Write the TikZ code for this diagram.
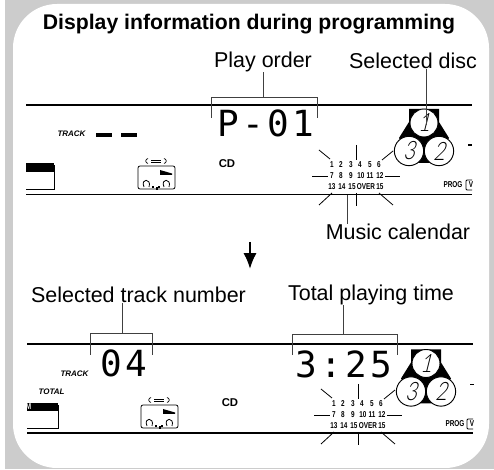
\documentclass[tikz,border=0pt]{standalone}
\usepackage{fontspec}
\setmainfont{Liberation Sans}
\newfontfamily\lcdfont[LetterSpace=9]{DejaVu Sans Mono}
\newfontfamily\discfont[FakeSlant=0.25,FakeStretch=0.8]{Lato Light}
\newfontfamily\narrowfont[FakeStretch=0.75]{Liberation Sans Bold}
\usetikzlibrary{arrows.meta,positioning,calc}

\begin{document}
\begin{tikzpicture}[x=0.75pt,y=-0.75pt,
  every node/.style={inner sep=0pt},
  title/.style={font=\fontsize{15.9}{18}\selectfont\bfseries},
  lbl/.style={font=\fontsize{16.1}{18}\selectfont},
  lcd/.style={font=\fontsize{27}{28}\selectfont\lcdfont},
  tag/.style={font=\fontsize{6}{7}\selectfont\bfseries\itshape},
  cdtag/.style={font=\fontsize{8.5}{9}\selectfont\bfseries},
  cal/.style={font=\fontsize{6.4}{7}\selectfont\narrowfont},
  discnum/.style={font=\fontsize{19}{20}\selectfont\discfont},
  rail/.style={line width=1.1pt},
  brk/.style={line width=0.6pt,draw=black!75},
  ray/.style={line width=0.6pt},
  discicon/.pic={
    \fill (409,109)--(439,109)--(439,122)--(449,138)--(434,163)--(414,163)--(399,138)--(409,122)--cycle;
    \node[circle,draw,fill=white,line width=0.7pt,minimum size=21pt,discnum] (-a) at (424,123) {1};
    \node[circle,draw,fill=white,line width=0.7pt,minimum size=22pt,discnum] (-b) at (409,151) {3};
    \node[circle,draw,fill=white,line width=0.7pt,minimum size=22pt,discnum] (-c) at (439,151) {2};
  },
  calendar/.pic={
    \foreach \xx/\tt [count=\ii] in {332/1,341/2,351/3,360/4,370/5,379/6}
      \node[cal] (-r\ii) at (\xx,165) {\tt};
    \foreach \xx/\tt [count=\ii] in {332/7,341/8,351/9,361/10,370/11,380/12}
      \node[cal] (-s\ii) at (\xx,176) {\tt};
    \foreach \xx/\tt [count=\ii] in {332/13,342/14,352/15,366/OVER,380/15}
      \node[cal] (-t\ii) at (\xx,187) {\tt};
    \draw[ray] (319,150)--(330,159);
    \draw[ray] (356,145)--(356,160);
    \draw[ray] (393,151)--(382,160);
    \draw[ray] (312,176)--(328,176);
    \draw[ray] (385,176)--(400,176);
    \draw[ray] (332,193)--(319,205);
    \draw[ray] (356,193)--(356,206);
    \draw[ray] (379,193)--(393,205);
  },
  tapeicon/.pic={
    \draw[line width=0.6pt,rounded corners=1.5pt] (138,166) rectangle (175,189);
    \fill (160,170)--(172,173.5)--(172,175)--(160,175)--cycle;
    \draw[line width=0.6pt] (144,187) .. controls (140,178) and (152,178) .. (149,187);
    \draw[line width=0.6pt] (164,187) .. controls (160,178) and (172,178) .. (169,187);
    \fill (152,186) rectangle (154,188);
    \fill (158,186) rectangle (160,188);
    \fill (155.5,187) rectangle (157.5,190);
    \draw[line width=0.5pt] (148,158.5) .. controls (145,159) and (145,163) .. (148,163.5);
    \draw[line width=0.5pt] (164,158.5) .. controls (167,159) and (167,163) .. (164,163.5);
    \draw[line width=0.5pt] (151,160)--(161,160);
    \draw[line width=0.5pt] (151,162.5)--(161,162.5);
  }]
\useasboundingbox (0,0) rectangle (494,470);
% panel
\fill[black!20] (5,0) rectangle (494,469);
\fill[white,rounded corners=33pt] (13,4) rectangle (489,468);
\node[title] (head) at (249,24.5) {Display information during programming};
% upper display
\node[lbl] (play) at (263,62) {Play order};
\node[lbl] (disc) at (413,61) {Selected disc};
\draw[rail] (26,105)--(472,105);
\draw[rail] (26,194.5)--(472,194.5);
\coordinate (pa) at (211,118); \coordinate (pb) at (211,97);
\coordinate (pc) at (317,97);  \coordinate (pd) at (317,118);
\coordinate (pm) at (263,97);
\draw[brk] (pa)--(pb)--(pc)--(pd);
\draw[brk] (play.south)--(pm);
\node[lcd] (order) at (266,123) {P-01};
\node[tag] (trk) at (71.5,134) {TRACK};
\fill (96,133) rectangle (112,137);
\fill (121,133) rectangle (137,137);
\fill (26,163) rectangle (54,172);
\draw[line width=0.7pt] (26,189)--(54,189)--(54,165);
\pic at (0,0) {tapeicon};
\node[cdtag] (cd) at (227,164) {CD};
\pic (da) at (0,0) {discicon};
\coordinate (dt) at (426,125);
\draw[brk] (disc.south -| dt)--(dt);
\pic (ca) at (0,0) {calendar};
\node[lbl] (music) at (398,232) {Music calendar};
\draw[brk] (music.north -| 347,0)--(347,195);
\fill (468,144.5) rectangle (472,146);
\node[cal] (prog) at (453,185) {PROG};
\draw[line width=0.6pt] (472,180)--(467,180)--(466,181)--(466,189)--(467,190)--(472,190);
\begin{scope}
\clip (466,178) rectangle (472,192);
\node[cal] (vv) at (471,185) {V};
\end{scope}
% arrow
\node (top) at (250,241) {};
\node (bot) at (250,270) {};
\draw[-{Latex[length=12pt,width=10pt]},line width=1.7pt] (top)--(bot);
% lower display
\node[lbl] (track) at (138.5,295) {Selected track number};
\node[lbl] (time) at (371,295) {Total playing time};
\draw[rail] (27,344)--(473,344);
\draw[rail] (27,433)--(473,433);
\coordinate (ta) at (90,355); \coordinate (tb) at (90,333);
\coordinate (tc) at (152,333); \coordinate (td) at (152,355);
\coordinate (tm) at (122,333);
\draw[brk] (ta)--(tb)--(tc)--(td);
\draw[brk] (track.south -| tm)--(tm);
\coordinate (qa) at (292,355); \coordinate (qb) at (292,334);
\coordinate (qc) at (397,334); \coordinate (qd) at (397,355);
\coordinate (qm) at (343,334);
\draw[brk] (qa)--(qb)--(qc)--(qd);
\draw[brk] (time.south -| qm)--(qm);
\node[lcd] (num) at (123.5,363.5) {04};
\node[lcd] (total) at (344,364) {3:25};
\node[tag] (trk2) at (74.5,374) {TRACK};
\node[tag] (tot) at (51.5,392) {TOTAL};
\fill (27,403) rectangle (58,411);
\node[cal,text=white] (mm) at (28.5,406.5) {M};
\draw[line width=0.7pt] (27,428)--(58,428)--(58,405);
\pic at (3,239) {tapeicon};
\node[cdtag] (cd2) at (230,403) {CD};
\pic (db) at (2,240.5) {discicon};
\pic (cb) at (2,239) {calendar};
\fill (470,384) rectangle (474,385.5);
\node[cal] (prog2) at (455,424) {PROG};
\draw[line width=0.6pt] (473,419)--(468,419)--(467,420)--(467,428)--(468,429)--(473,429);
\begin{scope}
\clip (467,417) rectangle (473,431);
\node[cal] (vw) at (472,424) {V};
\end{scope}
\end{tikzpicture}
\end{document}
